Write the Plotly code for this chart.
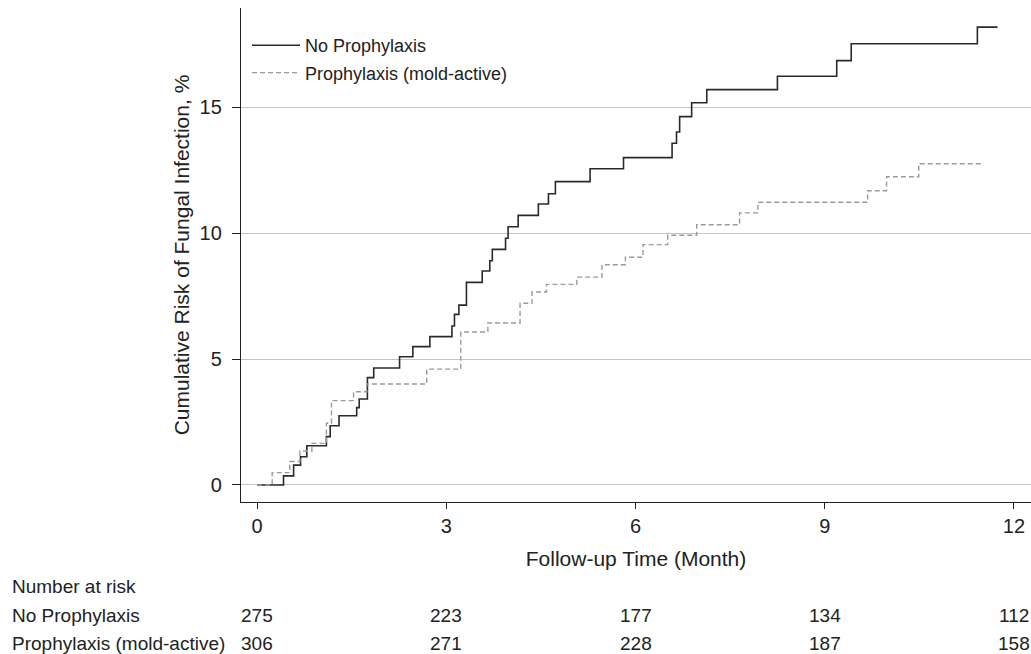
import plotly.graph_objects as go

# ---- data ----
no_proph_t = [0, 0.42, 0.58, 0.69, 0.79, 1.10, 1.16, 1.30, 1.58, 1.62, 1.75, 1.85, 2.26, 2.47, 2.74,
              3.09, 3.13, 3.20, 3.32, 3.57, 3.69, 3.73, 3.94, 3.98, 4.14, 4.46, 4.62, 4.73, 5.28,
              5.81, 6.58, 6.65, 6.70, 6.89, 7.13, 8.25, 9.19, 9.42, 11.42, 11.74]
no_proph_v = [0, 0.36, 0.79, 1.12, 1.56, 1.92, 2.35, 2.75, 3.07, 3.41, 4.26, 4.64, 5.09, 5.49, 5.89,
              6.31, 6.77, 7.14, 8.04, 8.49, 8.90, 9.35, 9.79, 10.25, 10.70, 11.15, 11.56, 12.04, 12.55,
              12.99, 13.56, 14.01, 14.62, 15.17, 15.69, 16.22, 16.84, 17.51, 18.17, 18.17]

proph_t = [0, 0.24, 0.52, 0.68, 0.87, 1.10, 1.18, 1.53, 1.74, 2.69, 3.23, 3.66, 4.17, 4.36, 4.59,
           5.07, 5.47, 5.84, 6.12, 6.51, 6.97, 7.65, 7.94, 9.68, 9.98, 10.49, 11.52]
proph_v = [0, 0.49, 0.93, 1.35, 1.65, 2.45, 3.35, 3.70, 4.01, 4.60, 6.07, 6.43, 7.21, 7.66, 7.96,
           8.25, 8.74, 9.04, 9.54, 9.91, 10.33, 10.80, 11.22, 11.68, 12.23, 12.75, 12.75]

x_ticks = [0, 3, 6, 9, 12]
y_ticks = [0, 5, 10, 15]
risk_times = [0, 3, 6, 9, 12]
risk_no_proph = [275, 223, 177, 134, 112]
risk_proph = [306, 271, 228, 187, 158]
series_names = ["No Prophylaxis", "Prophylaxis (mold-active)"]

FONT = "Liberation Sans, Arial, Helvetica, sans-serif"
TXT = "#222222"

fig = go.Figure()
fig.add_trace(go.Scatter(x=no_proph_t, y=no_proph_v, mode="lines", line_shape="hv",
                         name=series_names[0], legendgroup="a",
                         line=dict(color="#2a2a2a", width=1.6)))
fig.add_trace(go.Scatter(x=proph_t, y=proph_v, mode="lines", line_shape="hv",
                         name=series_names[1], legendgroup="b",
                         line=dict(color="#9a9a9a", width=1.4, dash="5px,3px")))

W, H = 1031, 654
L, R, T, B = 241, 0, 8, 152
plot_h = H - T - B

def py(ypx):
    return (H - B - ypx) / plot_h

def px_x(xpx):
    return (xpx - L) / (W - L - R)

rows = [("Number at risk", None, 586), (series_names[0], risk_no_proph, 615),
        (series_names[1], risk_proph, 643)]
for label, vals, ypx in rows:
    fig.add_annotation(x=px_x(10), y=py(ypx), xref="paper", yref="paper", text=label,
                       showarrow=False, xanchor="left", yanchor="middle",
                       font=dict(family=FONT, size=19, color=TXT))
    if vals:
        for t, v in zip(risk_times, vals):
            fig.add_annotation(x=t, y=py(ypx), xref="x", yref="paper", text=str(v),
                               showarrow=False, xanchor="center", yanchor="middle",
                               font=dict(family=FONT, size=19, color=TXT))

fig.update_layout(
    width=W, height=H,
    margin=dict(l=L, r=R, t=T, b=B),
    paper_bgcolor="white", plot_bgcolor="white",
    font=dict(family=FONT, color=TXT),
    showlegend=True,
    legend=dict(x=px_x(247), y=py(27), xanchor="left", yanchor="top",
                font=dict(family=FONT, size=18, color=TXT),
                bgcolor="rgba(0,0,0,0)", tracegroupgap=1, itemwidth=48),
)
fig.update_xaxes(range=[-0.254, 12.27], tickvals=x_ticks, ticks="outside", ticklen=6,
                 tickcolor="#222", showline=True, linecolor="#222", linewidth=1.3,
                 showgrid=False, zeroline=False, tickfont=dict(size=20, family=FONT, color=TXT),
                 ticklabelstandoff=0,
                 title=dict(text="Follow-up Time (Month)", font=dict(size=21, family=FONT, color=TXT),
                            standoff=15))
fig.update_yaxes(range=[-0.675, 18.93], tickvals=y_ticks, ticks="outside", ticklen=8,
                 tickcolor="#222", showline=True, linecolor="#222", linewidth=1.3,
                 showgrid=True, gridcolor="#c4c4c4", gridwidth=1.2, zeroline=False,
                 tickfont=dict(size=20, family=FONT, color=TXT), ticklabelstandoff=6,
                 title=dict(text="Cumulative Risk of Fungal Infection, %",
                            font=dict(size=21, family=FONT, color=TXT), standoff=4))

fig.write_html("out.html")
